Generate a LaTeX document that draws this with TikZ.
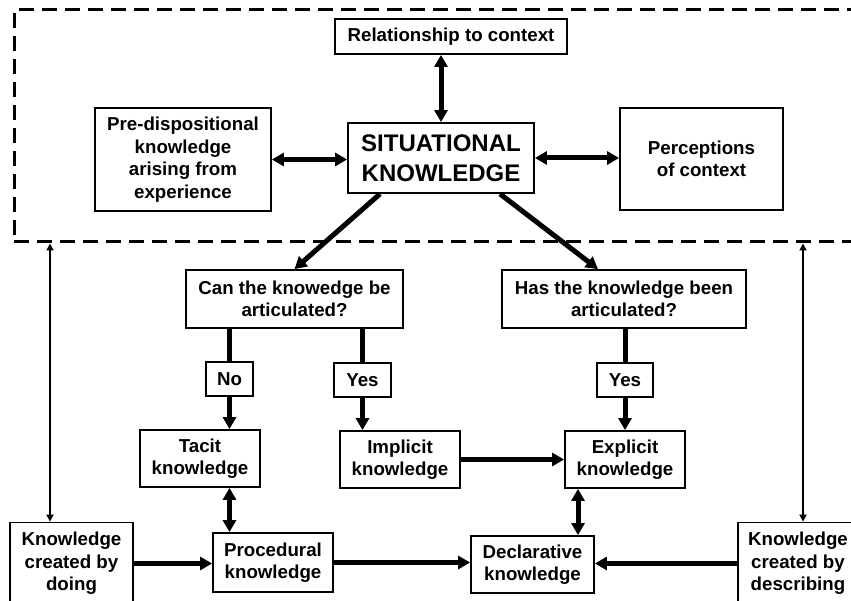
\documentclass[tikz,border=0pt]{standalone}
\usepackage{fontspec}
\setmainfont{Liberation Sans}
\usepackage{tikz}
\usetikzlibrary{arrows.meta,positioning}
\tikzset{
  box/.style={draw,line width=1.8pt,align=center,inner sep=0pt,
    font=\fontsize{18.7}{22.5}\selectfont\bfseries},
  answer/.style={box,minimum height=34pt},
  arrow/.style={-{Triangle[length=12pt,width=13pt]},line width=5pt},
  twoway/.style={{Triangle[length=12pt,width=13pt]}-{Triangle[length=12pt,width=13pt]},line width=5pt},
  link/.style={line width=5pt},
  thinarrow/.style={{Triangle[length=7pt,width=7pt]}-{Triangle[length=7pt,width=7pt]},line width=1.8pt},
  frame/.style={draw,line width=3pt,dash pattern=on 15pt off 8pt}
}
\begin{document}
\begin{tikzpicture}[x=1pt,y=-1pt]
        \useasboundingbox (0,0) rectangle (851,601);
        \clip (0,0) rectangle (851,601);
        \node[frame,minimum width=860pt,minimum height=232pt] (ctx) at (444,126) {};
        \node[box,minimum width=232pt,minimum height=35pt] (rel) at (451,36.5) {Relationship to context};
        \node[box,minimum width=186pt,minimum height=70pt,font=\fontsize{24}{30}\selectfont\bfseries] (sk) at (441,158) {SITUATIONAL\\KNOWLEDGE};
        \node[box,minimum width=176pt,minimum height=103pt] (pre) at (183,159.5) {Pre-dispositional\\knowledge\\arising from\\experience};
        \node[box,minimum width=163pt,minimum height=102pt] (perc) at (701.5,159) {Perceptions\\of context};
        \node[box,minimum width=217pt,minimum height=58pt] (can) at (294.5,299) {Can the knowedge be\\articulated?};
        \node[box,minimum width=244pt,minimum height=58pt] (has) at (624,299) {Has the knowledge been\\articulated?};
        \node[answer,minimum width=47pt] (no) at (229.5,379) {No};
        \node[answer,minimum width=57pt] (yes) at (362.5,380) {Yes};
        \node[answer,minimum width=56pt] (yestwo) at (625,380) {Yes};
        \node[box,minimum width=120pt,minimum height=57pt] (tacit) at (200,458.5) {Tacit\\knowledge};
        \node[box,minimum width=120pt,minimum height=57pt] (implicit) at (400,459.5) {Implicit\\knowledge};
        \node[box,minimum width=120pt,minimum height=57pt] (explicit) at (625,459.5) {Explicit\\knowledge};
        \node[box,minimum width=120pt,minimum height=59pt] (proc) at (273,562.5) {Procedural\\knowledge};
        \node[box,minimum width=123pt,minimum height=57pt] (decl) at (532.5,564.5) {Declarative\\knowledge};
        \node[box,minimum width=123pt,minimum height=82pt] (doing) at (71.5,563.5) {Knowledge\\created by\\doing};
        \node[box,minimum width=120pt,minimum height=82pt] (describing) at (798,563.5) {Knowledge\\created by\\describing};
        \draw[twoway] (sk.north) -- (sk.north |- rel.south);
        \draw[twoway] (pre.east) -- (pre.east -| sk.west);
        \draw[twoway] (sk.east) -- (sk.east -| perc.west);
        \draw[arrow] ([xshift=-61pt]sk.south) -- (can.north);
        \draw[arrow] ([xshift=59pt]sk.south) -- ([xshift=-26pt]has.north);
        \draw[link] (no.north |- can.south) -- (no.north);
        \draw[arrow] (no.south) -- (no.south |- tacit.north);
        \draw[link] (yes.north |- can.south) -- (yes.north);
        \draw[arrow] (yes.south) -- (yes.south |- implicit.north);
        \draw[link] (yestwo.north |- has.south) -- (yestwo.north);
        \draw[arrow] (yestwo.south) -- (yestwo.south |- explicit.north);
        \draw[arrow] (implicit) -- (explicit);
        \draw[twoway] (no.south |- tacit.south) -- (no.south |- proc.north);
        \draw[twoway] ([xshift=-47pt]explicit.south) -- ([xshift=-47pt]explicit.south |- decl.north);
        \draw[arrow] (doing.east) -- (doing.east -| proc.west);
        \draw[arrow] (proc.east) -- (proc.east -| decl.west);
        \draw[arrow] (describing.west) -- (describing.west -| decl.east);
        \draw[thinarrow] ([xshift=-21.5pt]doing.north) -- ([xshift=-21.5pt]doing.north |- ctx.south);
        \draw[thinarrow] ([xshift=5pt]describing.north) -- ([xshift=5pt]describing.north |- ctx.south);
      \end{tikzpicture}
\end{document}
